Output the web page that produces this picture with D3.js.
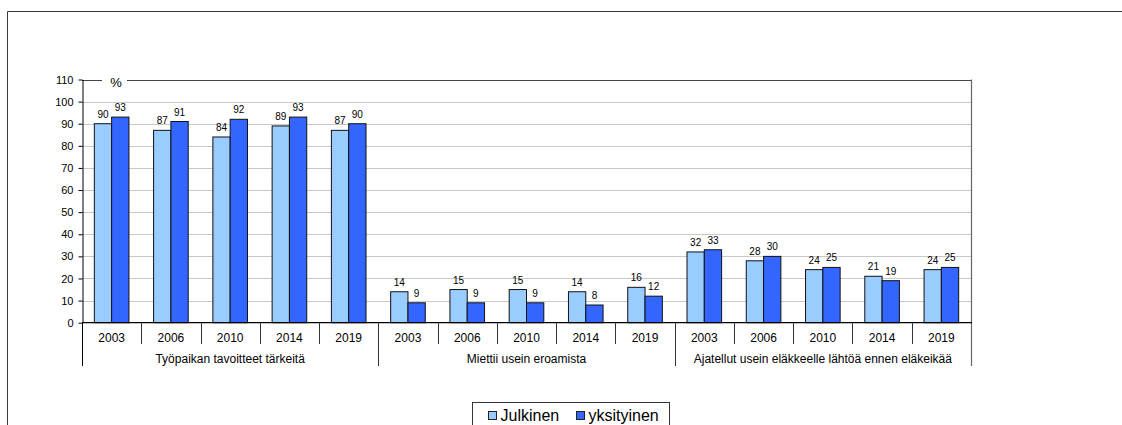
<!DOCTYPE html>
<html>
<head>
<meta charset="utf-8">
<script src="https://cdn.jsdelivr.net/npm/d3@7"></script>
<style>
  html, body { margin: 0; padding: 0; background: #fff; }
  svg { display: block; font-family: "Liberation Sans", Arial, sans-serif; }
</style>
</head>
<body>
<svg id="chart" width="1122" height="425"></svg>
<script>
// Question groups and survey years
const groups = ["Työpaikan tavoitteet tärkeitä", "Miettii usein eroamista", "Ajatellut usein eläkkeelle lähtöä ennen eläkeikää"];
const years = ["2003", "2006", "2010", "2014", "2019"];

// Share (%) per group and year, public vs private sector
const julkinen   = [90, 87, 84, 89, 87, 14, 15, 15, 14, 16, 32, 28, 24, 21, 24];
const yksityinen = [93, 91, 92, 93, 90,  9,  9,  9,  8, 12, 33, 30, 25, 19, 25];

const seriesNames = ["Julkinen", "yksityinen"];
const seriesColors = ["#99CCFF", "#3366FF"];
const yTicks = [0, 10, 20, 30, 40, 50, 60, 70, 80, 90, 100, 110];

// one row per bar pair
const rows = [];
groups.forEach((g, gi) => years.forEach((yr, yi) => {
  const i = gi * years.length + yi;
  rows.push({ key: gi + "-" + yr, group: g, year: yr, values: [julkinen[i], yksityinen[i]] });
}));

const svg = d3.select("#chart");
const plotLeft = 82, plotRight = 971, plotTop = 79.5, plotZero = 322.7, axisBottom = 366;

const x = d3.scaleBand().domain(rows.map(d => d.key)).range([plotLeft, plotRight]).padding(0);
const bw = x.bandwidth() * 0.292;
const xs = d3.scaleBand().domain([0, 1]).range([0, 2 * bw]).padding(0);
const y = d3.scaleLinear().domain([0, 110]).range([plotZero, plotTop]);

// outer frame
svg.append("path")
  .attr("d", "M7.5,425 V11.5 H1122")
  .attr("fill", "none").attr("stroke", "#3a3a3a").attr("stroke-width", 1);

// gridlines
svg.append("g").selectAll("line")
  .data(yTicks.filter(t => t > 0 && t < 110))
  .join("line")
  .attr("x1", plotLeft).attr("x2", plotRight)
  .attr("y1", d => Math.round(y(d)) + 0.5).attr("y2", d => Math.round(y(d)) + 0.5)
  .attr("stroke", "#c8c8c8").attr("stroke-width", 1);

// plot area top and right border
svg.append("line")
  .attr("x1", plotLeft).attr("x2", plotRight)
  .attr("y1", Math.round(y(110)) + 0.5).attr("y2", Math.round(y(110)) + 0.5)
  .attr("stroke", "#444").attr("stroke-width", 1.2);
svg.append("line")
  .attr("x1", plotRight + 0.5).attr("x2", plotRight + 0.5)
  .attr("y1", y(110)).attr("y2", axisBottom)
  .attr("stroke", "#666").attr("stroke-width", 1.2);

// unit label on top border
svg.append("rect")
  .attr("x", 102).attr("y", 73).attr("width", 25).attr("height", 16)
  .attr("fill", "#fff");
svg.append("text")
  .attr("x", 116).attr("y", 87)
  .attr("text-anchor", "middle").attr("font-size", 13).attr("fill", "#000")
  .text("%");

// bars
const pairs = svg.append("g").selectAll("g")
  .data(rows).join("g")
  .attr("transform", d => `translate(${x(d.key) + (x.bandwidth() - 2 * bw) / 2},0)`);

pairs.selectAll("rect")
  .data(d => d.values.map((v, s) => ({ v, s })))
  .join("rect")
  .attr("x", d => xs(d.s))
  .attr("y", d => y(d.v))
  .attr("width", xs.bandwidth())
  .attr("height", d => plotZero - y(d.v))
  .attr("fill", d => seriesColors[d.s])
  .attr("stroke", "#111").attr("stroke-width", 1);

// value labels
pairs.selectAll("text")
  .data(d => d.values.map((v, s) => ({ v, s })))
  .join("text")
  .attr("x", d => xs(d.s) + xs.bandwidth() / 2)
  .attr("y", d => y(d.v) - 6)
  .attr("text-anchor", "middle").attr("font-size", 10).attr("fill", "#000")
  .text(d => d.v);

// y axis
const yAxis = svg.append("g")
  .attr("transform", `translate(${plotLeft + 0.5},0)`)
  .call(d3.axisLeft(y).tickValues(yTicks).tickSize(4).tickSizeOuter(0).tickPadding(5));
yAxis.select(".domain").attr("stroke", "#000");
yAxis.selectAll(".tick line").attr("stroke", "#000");
yAxis.selectAll(".tick text")
  .attr("font-size", 11).attr("fill", "#000")
  .attr("font-family", "'Liberation Sans', Arial, sans-serif");

// y axis extension below the baseline
svg.append("line")
  .attr("x1", plotLeft + 0.5).attr("x2", plotLeft + 0.5)
  .attr("y1", plotZero).attr("y2", axisBottom)
  .attr("stroke", "#000");

// x baseline
svg.append("line")
  .attr("x1", plotLeft).attr("x2", plotRight + 1)
  .attr("y1", plotZero).attr("y2", plotZero)
  .attr("stroke", "#000").attr("stroke-width", 1.2);

// year separators and group separators
const bounds = rows.map((d, i) => ({ xpos: x(d.key), groupStart: i % years.length === 0 }));
svg.append("g").selectAll("line")
  .data(bounds.filter(b => b.xpos > plotLeft))
  .join("line")
  .attr("x1", d => Math.round(d.xpos) + 0.5).attr("x2", d => Math.round(d.xpos) + 0.5)
  .attr("y1", plotZero).attr("y2", d => d.groupStart ? axisBottom : 344)
  .attr("stroke", "#333").attr("stroke-width", 1);

// year labels
svg.append("g").selectAll("text")
  .data(rows).join("text")
  .attr("x", d => x(d.key) + x.bandwidth() / 2)
  .attr("y", 341.5)
  .attr("text-anchor", "middle").attr("font-size", 12).attr("fill", "#000")
  .text(d => d.year);

// group labels
const groupWidth = x.bandwidth() * years.length;
svg.append("g").selectAll("text")
  .data(groups).join("text")
  .attr("x", (d, i) => plotLeft + groupWidth * i + groupWidth / 2)
  .attr("y", 362.5)
  .attr("text-anchor", "middle").attr("font-size", 12).attr("fill", "#000")
  .text(d => d);

// legend
const legend = svg.append("g");
legend.append("rect")
  .attr("x", 472.5).attr("y", 402.5).attr("width", 197).attr("height", 24)
  .attr("fill", "#fff").attr("stroke", "#333");
const legendItems = legend.selectAll("g.item")
  .data(seriesNames).join("g").attr("class", "item")
  .attr("transform", (d, i) => `translate(${[488.5, 576.5][i]},0)`);
legendItems.append("rect")
  .attr("x", 0).attr("y", 411.5).attr("width", 8).attr("height", 8)
  .attr("fill", (d, i) => seriesColors[i]).attr("stroke", "#222");
legendItems.append("text")
  .attr("x", 12).attr("y", 421)
  .attr("font-size", 16).attr("fill", "#000")
  .text(d => d);
</script>
</body>
</html>
